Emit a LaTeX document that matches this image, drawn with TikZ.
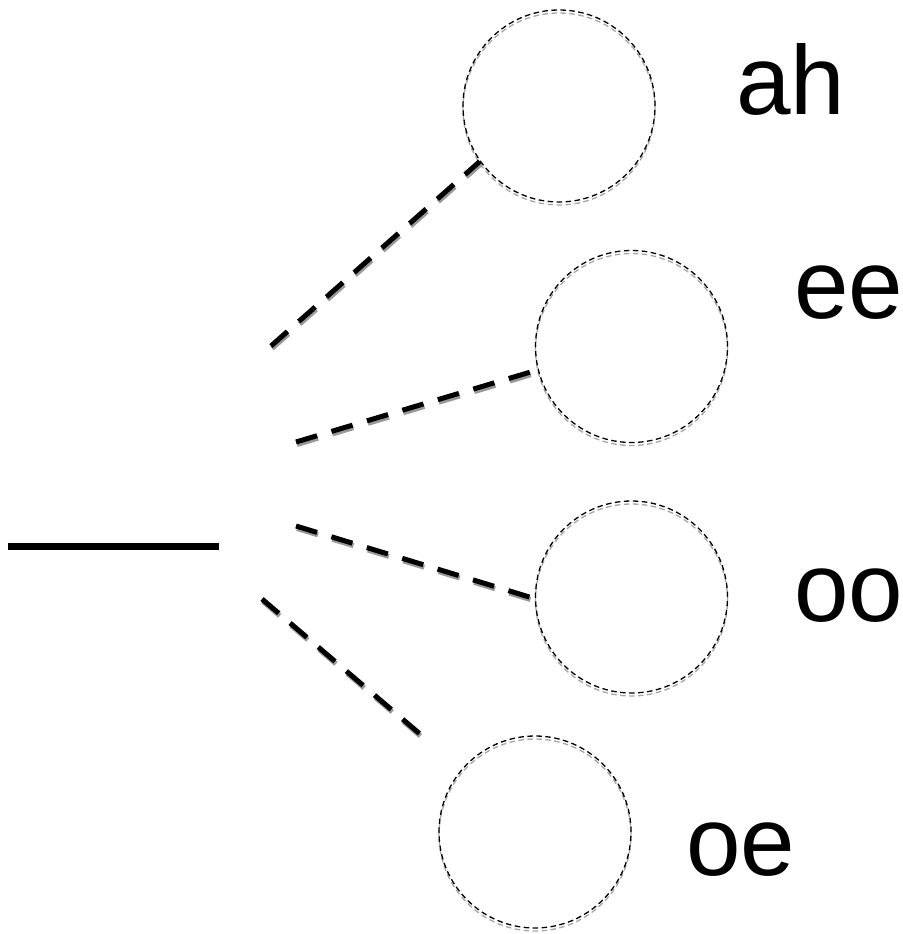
\documentclass[tikz,border=0pt]{standalone}
\usepackage{fontspec}
\setmainfont{Liberation Sans}
\begin{document}
\begin{tikzpicture}[x=1pt,y=-1pt,
  vowelring/.style={circle, minimum size=192pt, inner sep=0pt,
    draw=black, line width=1.3pt, dash pattern=on 5.5pt off 3.5pt,
    preaction={draw=black!35, line width=1.3pt, dash pattern=on 5.5pt off 3.5pt,
      transform canvas={yshift=-3pt}}},
  branch/.style={line width=5pt, dash pattern=on 22pt off 15pt,
    preaction={draw=black!40, line width=5pt, dash pattern=on 22pt off 15pt,
      transform canvas={xshift=1pt,yshift=-2.5pt}}},
  vowel/.style={anchor=base west, inner sep=0pt,
    font=\fontsize{98}{110}\selectfont}]
  \useasboundingbox (0,0) rectangle (902,934);

  % stem
  \coordinate (stemL) at (8,546);
  \coordinate (stemR) at (219,546);
  \draw[line width=7pt] (stemL) -- (stemR);

  % vowel rings
  \node[vowelring] (ah) at (559,106) {};
  \node[vowelring] (ee) at (631.5,346.5) {};
  \node[vowelring] (oo) at (631.5,597) {};
  \node[vowelring] (oe) at (535,832) {};

  % labels
  \node[vowel] (lah) at (736,114) {ah};
  \node[vowel] (lee) at (794,318) {ee};
  \node[vowel] (loo) at (794,621) {oo};
  \node[vowel] (loe) at (686,875) {oe};

  % branch start points
  \coordinate (b1) at (271,346);
  \coordinate (b2) at (296,442);
  \coordinate (b3) at (296,526);
  \coordinate (b4) at (262,599);
  \coordinate (b4e) at (420,734);

  % dashed branches
  \draw[branch] (b1) -- (ah.215);
  \draw[branch, shorten >=5.5pt] (b2) -- (ee.194);
  \draw[branch, shorten >=5pt] (b3) -- (oo.181);
  \draw[branch] (b4) -- (b4e);
\end{tikzpicture}
\end{document}
